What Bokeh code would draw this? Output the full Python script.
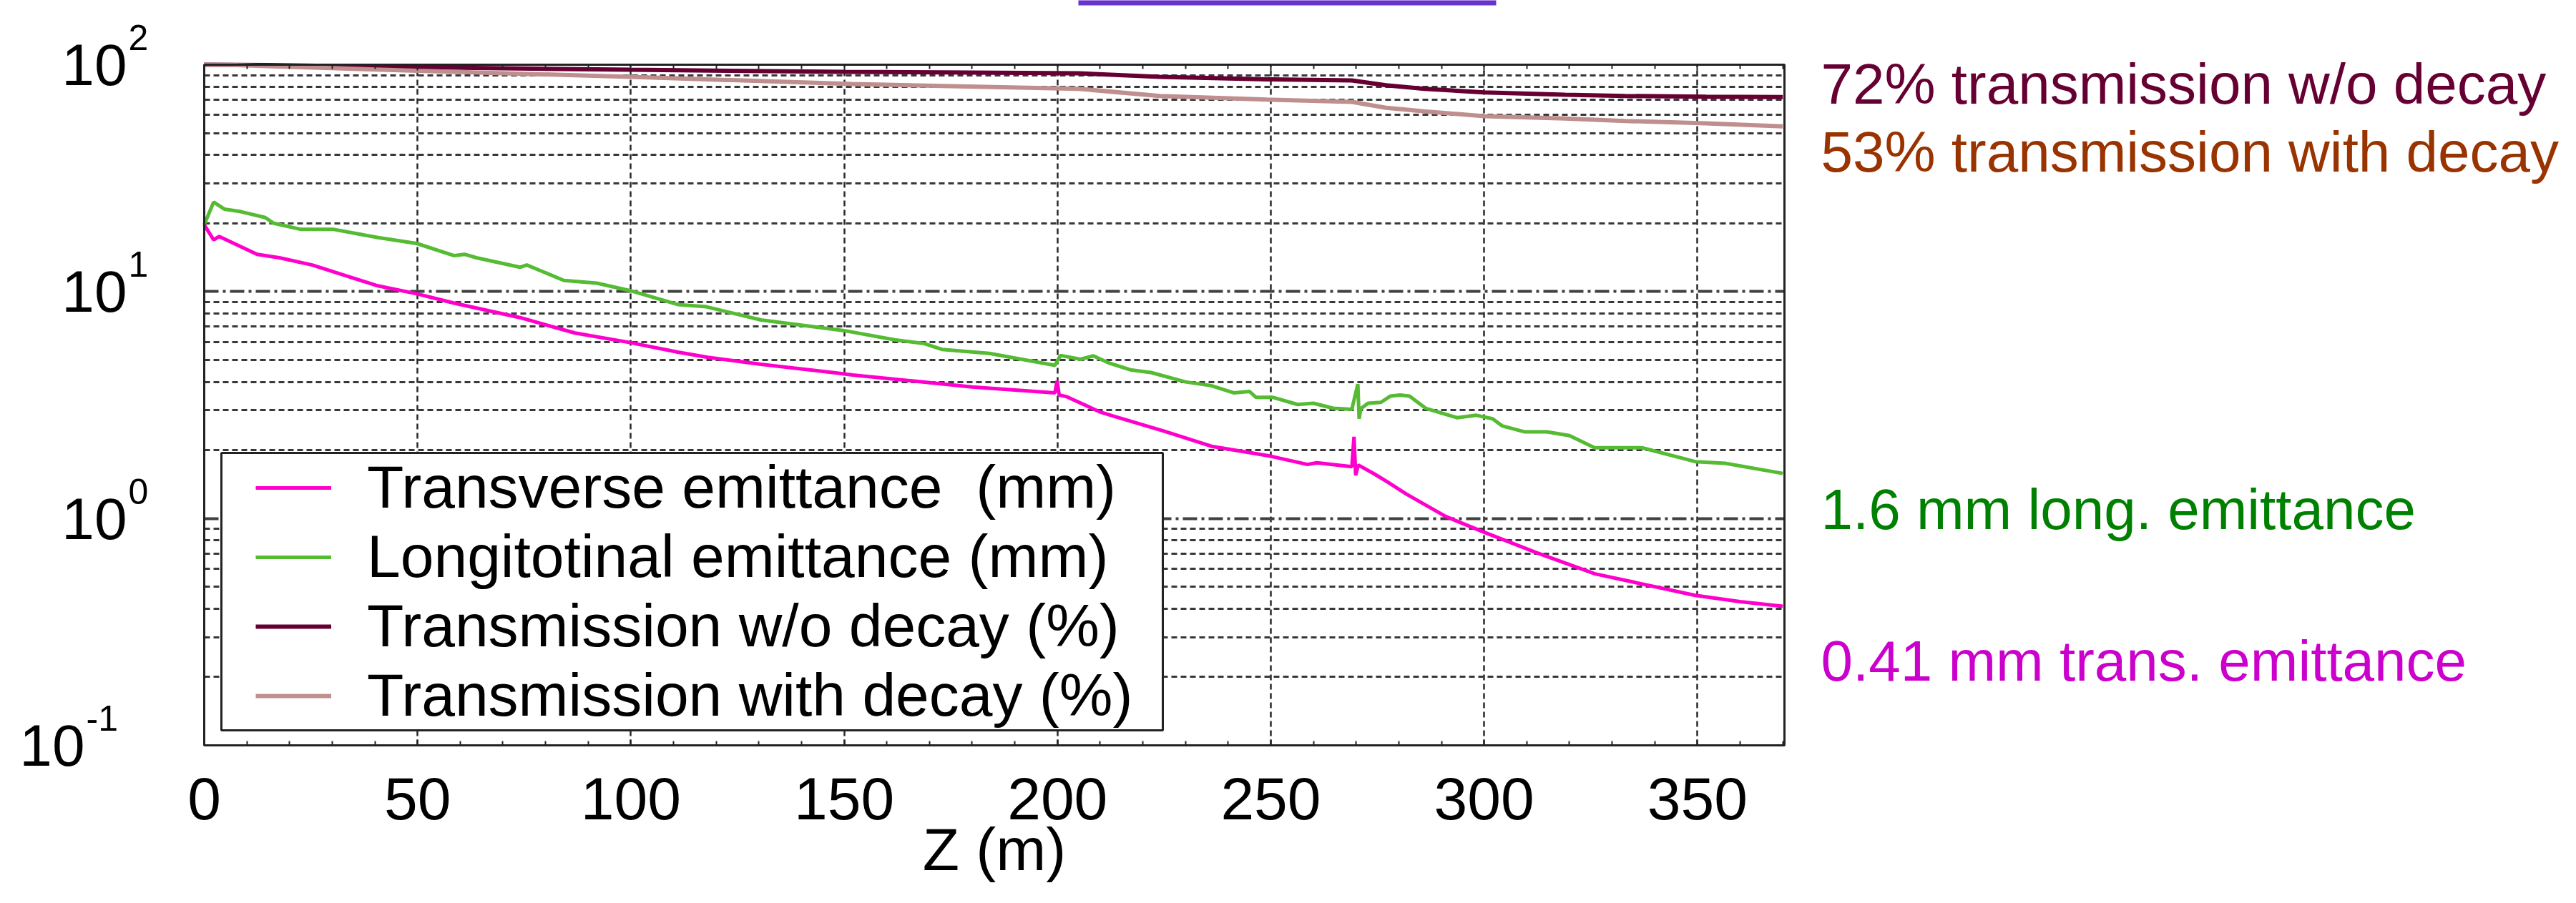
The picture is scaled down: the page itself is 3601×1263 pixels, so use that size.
import math
from bokeh.plotting import figure
from bokeh.models import (Range1d, FixedTicker, LinearAxis, Legend, LegendItem, Label,
                          BoxAnnotation, CustomJSTickFormatter, Grid)
from bokeh.embed import file_html
from bokeh.resources import INLINE

# ---------------- data ----------------
z_trans = [0, 2.2, 3.5, 12.4, 17.6, 25.3, 40.7, 49.8, 58.6, 74, 86.9, 99.8, 111, 118, 130.5,
           148, 152, 166, 180, 199.4, 199.9, 200.4, 202.2, 209.9, 213.6, 224.9, 236.1, 249.5,
           258.6, 260.8, 269, 269.5, 269.9, 270.5, 274.3, 277.3, 281.8, 291, 300, 312, 326,
           349.5, 360, 370]
trans_emit = [19.7, 16.9, 17.5, 14.6, 14.1, 13.1, 10.6, 9.78, 8.89, 7.68, 6.57, 5.96, 5.41,
              5.13, 4.78, 4.38, 4.29, 4.04, 3.80, 3.58, 4.04, 3.50, 3.44, 2.95, 2.81, 2.43,
              2.08, 1.89, 1.73, 1.76, 1.69, 2.29, 1.55, 1.72, 1.57, 1.45, 1.28, 1.02, 0.87,
              0.71, 0.57, 0.458, 0.43, 0.41]

z_long = [0, 2.2, 4.7, 8.6, 14.3, 16.3, 22.7, 30.4, 40.7, 49.8, 58.6, 61, 63.8, 74, 75.6,
          84.3, 92, 99.8, 111, 117.7, 130.5, 150, 161.8, 168.8, 172.9, 184, 199.4, 200.7,
          205.4, 208.4, 212, 217.3, 221.9, 230, 236, 241.3, 245, 246.5, 250.4, 256.3, 260,
          264.6, 269, 270.4, 270.7, 271.1, 272.8, 275.8, 278, 280.3, 282.5, 286.3, 293.7,
          298.2, 302, 304.2, 309.4, 314.7, 320, 325.9, 337, 349.5, 356.5, 370]
long_emit = [19.7, 24.8, 23.1, 22.5, 21.2, 20.0, 18.8, 18.8, 17.3, 16.3, 14.4, 14.6, 14.1,
             12.8, 13.1, 11.2, 10.9, 10.1, 8.77, 8.57, 7.50, 6.73, 6.13, 5.90, 5.56, 5.34,
             4.73, 5.23, 5.03, 5.21, 4.85, 4.51, 4.40, 4.00, 3.85, 3.58, 3.63, 3.42, 3.42,
             3.18, 3.22, 3.06, 3.03, 3.91, 2.75, 3.05, 3.22, 3.25, 3.46, 3.50, 3.46, 3.06,
             2.78, 2.85, 2.75, 2.56, 2.41, 2.41, 2.32, 2.05, 2.05, 1.78, 1.75, 1.58]

z_tr_wo = [0, 15, 50, 100, 150, 173, 205, 224, 249, 269, 277, 286, 300, 319, 333, 352, 370]
tr_wo = [100, 99.6, 97.5, 95.0, 93.0, 92.5, 91.6, 88.4, 86.2, 85.2, 81.2, 78.3, 75.5, 73.7,
         72.8, 72.3, 72.0]

z_tr_with = [0, 6, 15, 50, 100, 152, 205, 224, 249, 269, 277, 286, 300, 319, 333, 352, 370]
tr_with = [100, 99.8, 98.6, 94.0, 88.4, 82.2, 78.3, 72.8, 70.2, 68.6, 64.6, 62.3, 59.3, 57.9,
           56.5, 55.2, 53.5]

x_ticks = [0, 50, 100, 150, 200, 250, 300, 350]
x_minor = [10, 20, 30, 40, 60, 70, 80, 90, 110, 120, 130, 140, 160, 170, 180, 190,
           210, 220, 230, 240, 260, 270, 280, 290, 310, 320, 330, 340, 360, 370]
y_major = [0.1, 1, 10, 100]
y_exponents = ["-1", "0", "1", "2"]
y_minor = [0.2, 0.3, 0.4, 0.5, 0.6, 0.7, 0.8, 0.9,
           2, 3, 4, 5, 6, 7, 8, 9,
           20, 30, 40, 50, 60, 70, 80, 90]

legend_labels = ["Transverse emittance  (mm)", "Longitotinal emittance (mm)",
                 "Transmission w/o decay (%)", "Transmission with decay (%)"]
side_texts = ["72% transmission w/o decay", "53% transmission with decay",
              "1.6 mm long. emittance", "0.41 mm trans. emittance"]
x_label = "Z (m)"

# ---------------- layout geometry (pixels of the page) ----------------
X_MIN, X_MAX = 0, 370.4
Y_MIN, Y_MAX = 0.1, 100
CAN_W, CAN_H, OFF = 3585, 1247, 8
BOX_L, BOX_R, BOX_T, BOX_B = 293, 2502, 98, 1050     # plot box on the page
sx = (BOX_R - BOX_L) / (X_MAX - X_MIN)
x_start = X_MIN - (BOX_L - OFF) / sx
x_end = X_MAX + (OFF + CAN_W - BOX_R) / sx
dec = (BOX_B - BOX_T) / (math.log10(Y_MAX) - math.log10(Y_MIN))
y_start = 10 ** (math.log10(Y_MIN) - (OFF + CAN_H - BOX_B) / dec)
y_end = 10 ** (math.log10(Y_MAX) + (BOX_T - OFF) / dec)


def scr_x(px):          # page x -> frame screen x
    return px - OFF


def scr_y(py):          # page y -> frame screen y (from bottom, upward)
    return OFF + CAN_H - py


FONT = "Liberation Sans"
C_TRANS = "#FF00CC"
C_LONG = "#55BB33"
C_WO = "#660033"
C_WITH = "#BF8F8F"
GRID_DARK = "#383838"

p = figure(width=CAN_W, height=CAN_H, x_range=Range1d(x_start, x_end),
           y_range=Range1d(y_start, y_end), y_axis_type="log",
           output_backend="svg", toolbar_location=None, title=None,
           min_border_left=0, min_border_right=0, min_border_top=0, min_border_bottom=0,
           background_fill_color="white", border_fill_color="white")
p.outline_line_color = None
p.yaxis.visible = False

# ---------------- grids ----------------
xg_ticker = FixedTicker(ticks=x_ticks[1:], minor_ticks=[])
yg_ticker = FixedTicker(ticks=y_major[1:3], minor_ticks=y_minor)
has_cb = "cross_bounds" in Grid.properties()
if has_cb:
    p.xgrid.ticker = xg_ticker
    p.xgrid.cross_bounds = (Y_MIN, Y_MAX)
    p.xgrid.grid_line_color = "#2a2a2a"
    p.xgrid.grid_line_width = 2.5
    p.xgrid.grid_line_dash = "8 5"
    p.ygrid.ticker = yg_ticker
    p.ygrid.cross_bounds = (X_MIN, X_MAX)
    p.ygrid.grid_line_color = "#404040"
    p.ygrid.grid_line_width = 4
    p.ygrid.grid_line_dash = "20 6 4 6"
    p.ygrid.minor_grid_line_color = GRID_DARK
    p.ygrid.minor_grid_line_width = 3
    p.ygrid.minor_grid_line_dash = "8 5"
else:
    p.xgrid.visible = False
    p.ygrid.visible = False
    gx = x_ticks[1:]
    p.segment(x0=gx, y0=[Y_MIN] * len(gx), x1=gx, y1=[Y_MAX] * len(gx),
              line_color="#2a2a2a", line_width=2.5, line_dash="8 5")
    gy = y_major[1:3]
    p.segment(x0=[X_MIN] * len(gy), y0=gy, x1=[X_MAX] * len(gy), y1=gy,
              line_color="#404040", line_width=4, line_dash="20 6 4 6")
    p.segment(x0=[X_MIN] * len(y_minor), y0=y_minor, x1=[X_MAX] * len(y_minor), y1=y_minor,
              line_color=GRID_DARK, line_width=3, line_dash="8 5")

# ---------------- x axes (fixed on the plot box edges) ----------------
xt = FixedTicker(ticks=x_ticks, minor_ticks=x_minor)
ax = p.xaxis[0]
ax.ticker = xt
ax.fixed_location = Y_MIN
ax.bounds = (X_MIN, X_MAX)
ax.axis_line_color = None
ax.major_tick_in = 8
ax.major_tick_out = 0
ax.minor_tick_in = 6
ax.minor_tick_out = 0
ax.major_tick_line_color = "#222222"
ax.minor_tick_line_color = "#222222"
ax.major_tick_line_width = 2
ax.minor_tick_line_width = 2
ax.major_label_text_font = FONT
ax.major_label_text_font_size = "84px"
ax.major_label_text_color = "black"
ax.major_label_standoff = 45
ax.axis_label = x_label
ax.axis_label_text_font = FONT
ax.axis_label_text_font_size = "84px"
ax.axis_label_text_font_style = "normal"
ax.axis_label_text_color = "black"
ax.axis_label_standoff = -8

top = LinearAxis(ticker=xt, formatter=CustomJSTickFormatter(code="return ''"),
                 fixed_location=Y_MAX, bounds=(X_MIN, X_MAX),
                 axis_line_color=None, major_tick_in=8, major_tick_out=0,
                 minor_tick_in=6, minor_tick_out=0, major_tick_line_color="#222222",
                 minor_tick_line_color="#222222", major_tick_line_width=2,
                 minor_tick_line_width=2, major_label_text_font_size="1px",
                 major_label_standoff=0)
p.add_layout(top, "above")

# ---------------- curves ----------------
r_wo = p.line(z_tr_wo, tr_wo, line_color=C_WO, line_width=6)
r_with = p.line(z_tr_with, tr_with, line_color=C_WITH, line_width=6)
r_long = p.line(z_long, long_emit, line_color=C_LONG, line_width=5)
r_trans = p.line(z_trans, trans_emit, line_color=C_TRANS, line_width=5)

# plot box outline
p.add_layout(BoxAnnotation(left=X_MIN, right=X_MAX, bottom=Y_MIN, top=Y_MAX,
                           fill_color=None, fill_alpha=0, line_color="#222222",
                           line_width=3, line_alpha=1.0))

# purple bar at the top edge (cropped slide element)
p.add_layout(BoxAnnotation(left=scr_x(1515), right=scr_x(2099), bottom=scr_y(15),
                           top=scr_y(-10), left_units="screen", right_units="screen",
                           top_units="screen", bottom_units="screen",
                           fill_color="#6633CC", fill_alpha=1.0, line_color=None))

# legend frame + legend
p.add_layout(BoxAnnotation(left=scr_x(317), right=scr_x(1633), bottom=scr_y(1029),
                           top=scr_y(641), left_units="screen", right_units="screen",
                           top_units="screen", bottom_units="screen",
                           fill_color="white", fill_alpha=1.0,
                           line_color="#222222", line_width=3, line_alpha=1.0))

legend = Legend(items=[LegendItem(label=legend_labels[0], renderers=[r_trans]),
                       LegendItem(label=legend_labels[1], renderers=[r_long]),
                       LegendItem(label=legend_labels[2], renderers=[r_wo]),
                       LegendItem(label=legend_labels[3], renderers=[r_with])],
                location=(scr_x(365), scr_y(1029)), padding=0, spacing=0, margin=0,
                glyph_width=106, glyph_height=20, label_height=97, label_standoff=50,
                label_text_font=FONT, label_text_font_size="84px",
                label_text_color="black", border_line_color=None,
                background_fill_alpha=0.0)
p.add_layout(legend)

# y tick labels 10^n
base_x = [scr_x(126), scr_x(185), scr_x(185), scr_x(185)]
for v, e, bx in zip(y_major, y_exponents, base_x):
    p.add_layout(Label(x=bx, y=v, x_units="screen", y_units="data", text="10",
                       text_align="right", text_baseline="middle",
                       text_font=FONT, text_font_size="82px", text_color="black"))
    p.add_layout(Label(x=bx + 2, y=v, x_units="screen", y_units="data", text=e,
                       y_offset=38, text_align="left", text_baseline="middle",
                       text_font=FONT, text_font_size="50px", text_color="black"))

# side annotations (baselines measured on the page, corrected for text box offset)
side_colors = [C_WO, "#993300", "#008000", "#CC00CC"]
side_base = [125, 220, 720, 932]
for t, c, by in zip(side_texts, side_colors, side_base):
    p.add_layout(Label(x=scr_x(2553), y=scr_y(by), x_units="screen", y_units="screen",
                       text=t, text_align="left", text_baseline="alphabetic",
                       text_font=FONT, text_font_size="80px", text_color=c))

open("out.html", "w").write(file_html(p, INLINE))
